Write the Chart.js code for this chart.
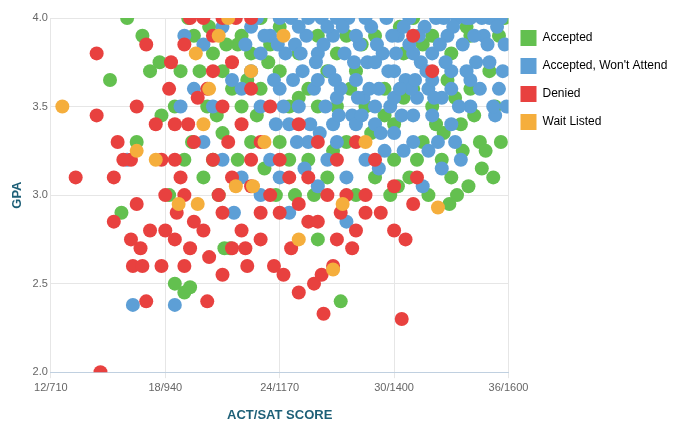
<!DOCTYPE html>
<html><head><meta charset="utf-8">
<script src="https://cdn.jsdelivr.net/npm/chart.js@4/dist/chart.umd.min.js"></script>
<style>html,body{margin:0;padding:0;background:#fff}#w{width:680px;height:431px}</style>
</head><body><div id="w"><canvas id="c"></canvas></div>
<script>
const xTicks=[12,18,24,30,36];
const xTickLabels=["12/710","18/940","24/1170","30/1400","36/1600"];
const yTicks=[2.0,2.5,3.0,3.5,4.0];
const seriesNames=["Accepted","Accepted, Won't Attend","Denied","Wait Listed"];
const accepted=[[15.7,2.9],[15.1,3.65],[16.5,3.3],[16.8,3.9],[17.2,3.7],[17.8,3.45],[17.7,3.75],[18.2,3.0],[18.5,2.5],[19,2.45],[19.3,2.48],[19.4,3.3],[19.5,3.9],[20.2,3.5],[20.5,3.2],[20.8,3.0],[21.1,2.7],[21.4,2.7],[20.5,3.8],[21,3.7],[21.5,3.6],[22,3.9],[22.5,3.8],[22,3.5],[21.8,3.2],[23,3.6],[23.5,3.85],[24,3.7],[24.5,3.5],[24,3.3],[25,3.8],[25.5,3.6],[26,3.9],[26.5,3.7],[27,3.5],[27.5,3.9],[27.2,2.4],[28,3.7],[28.5,3.5],[29,3.9],[29.5,3.6],[30,3.4],[30.5,3.8],[31,3.6],[31.5,3.3],[32,3.5],[32.5,3.2],[33,3.1],[33.3,3.0],[33.5,3.4],[34,3.6],[34.5,3.3],[34.8,3.25],[35,3.7],[35.5,3.9],[35.8,4.0],[34,3.9],[33,3.8],[32,3.9],[31,4.0],[30,3.2],[29,3.1],[28,3.0],[27.5,3.3],[26.5,3.1],[25.5,3.2],[24.8,3.0],[23.8,3.0],[23.2,3.15],[26,2.75],[29.8,3.0],[30.8,3.1],[31.8,3.0],[28.8,3.35],[27,3.8],[26,3.5],[25,3.55],[24,3.95],[23,4.0],[22.5,3.3],[21,3.35],[20,3.1],[19,3.2],[18.5,3.5],[16,4.0],[19.2,4.0],[18.8,3.7],[35.3,3.5],[33.8,3.95],[32.8,3.65],[31.5,3.85],[30.5,3.55],[29.5,3.45],[28.3,3.85],[27.7,3.6],[26.8,3.25],[25.8,3.0],[24.5,3.2],[30.3,3.95],[32.2,3.4],[33.2,3.55],[34.2,3.45],[22.8,3.45],[21.8,3.85],[20.7,3.45],[32.6,3.35],[33.6,3.25],[31.2,3.2],[30.2,3.05],[34.6,3.15],[35.6,3.3],[35.2,3.1],[33.9,3.05],[32.9,2.95],[20.3,3.95],[19.8,3.7],[21.2,3.85],[22.3,3.65],[23.4,3.75]];
const wontAttend=[[16.3,2.38],[16,3.2],[18.5,2.38],[18.8,3.5],[19.5,3.6],[20,3.3],[20.5,3.5],[21,3.2],[21.6,2.9],[22,3.1],[22.5,3.7],[22.8,4.0],[23,3.5],[23.5,3.9],[23.8,3.4],[24,3.6],[24.3,3.8],[24.6,4.0],[25,3.5],[25.2,3.7],[25.4,3.9],[25.6,3.4],[25.8,3.6],[26,3.8],[26.2,4.0],[26.4,3.5],[26.6,3.7],[26.8,3.9],[27,3.3],[27.2,3.6],[27.4,3.8],[27.6,4.0],[27.8,3.45],[28,3.65],[28.2,3.85],[28.4,3.55],[28.6,3.75],[28.8,3.95],[29,3.4],[29.2,3.6],[29.4,3.8],[29.6,4.0],[29.8,3.5],[30,3.7],[30.2,3.9],[30.4,3.45],[30.6,3.65],[30.8,3.85],[31,3.3],[31.2,3.55],[31.4,3.75],[31.6,3.95],[31.8,3.6],[32,3.8],[32.2,4.0],[32.5,3.55],[32.8,3.9],[33,3.7],[33.3,4.0],[33.6,3.85],[34,4.0],[34.3,3.75],[34.7,3.9],[35,4.0],[35.3,3.45],[35.5,3.6],[35.2,3.5],[33.5,3.2],[32.5,3.15],[31.5,3.05],[30.5,3.25],[29.5,3.25],[28.5,3.2],[27.5,3.1],[26.5,3.2],[25.5,3.3],[24.5,3.4],[23.5,3.2],[22.5,3.95],[24,3.1],[26,3.05],[21,3.95],[22,3.6],[23,3.8],[24.8,3.85],[27,4.0],[28,3.9],[29,3.75],[30,3.55],[31,3.8],[32,3.45],[33,3.4],[34,3.5],[35,3.75],[25,3.95],[26,3.65],[27,3.55],[28,3.4],[29,3.5],[30,3.35],[31,3.45],[32,3.65],[33,3.6],[34,3.65],[35.6,4.0],[24,4.0],[25.5,4.0],[28.5,4.0],[30.8,4.0],[33.8,4.0],[35.8,3.85],[19,3.9],[20,3.85],[21.5,3.65],[23,3.0],[24.5,2.9],[27.5,2.85],[31.8,3.25],[29.2,3.15],[26.8,3.4],[25.3,3.15],[24.2,3.5],[24.7,3.65],[25.1,3.8],[25.9,3.75],[26.3,3.85],[26.9,3.65],[27.3,3.95],[27.9,3.75],[28.3,3.45],[28.7,3.6],[29.1,3.85],[29.7,3.7],[30.1,3.8],[30.5,3.95],[30.9,3.6],[31.3,3.9],[31.7,3.7],[32.1,3.55],[32.4,3.85],[32.7,3.75],[33.1,3.95],[33.4,3.5],[33.8,3.7],[34.2,3.9],[34.5,3.6],[34.9,3.85],[35.4,3.95],[23.7,3.65],[23.2,3.9],[24.9,3.3],[26.1,3.35],[27.1,3.45],[28.1,3.55],[29.3,3.35],[30.3,3.6],[31.1,3.65],[32.3,3.3],[33.2,3.3],[35.7,3.7],[35.9,3.5],[22.2,3.85],[23.9,3.85],[26.5,3.95],[29.9,3.9],[32.6,4.0],[34.6,4.0]];
const denied=[[14.6,2.0],[30.4,2.3],[13.3,3.1],[14.4,3.8],[14.4,3.45],[15.5,3.3],[15.3,3.1],[16.5,3.5],[17,3.85],[16.2,3.2],[16.5,2.95],[17.2,2.8],[16.7,2.7],[16.3,2.6],[16.8,2.6],[17.8,2.6],[17,2.4],[18,2.8],[18.5,2.75],[18.6,2.9],[19,3.0],[19.3,2.7],[19.5,2.85],[20,2.8],[20.3,2.65],[20.2,2.4],[21,2.55],[21,2.9],[21.5,2.7],[22,2.8],[22.3,2.6],[23,2.75],[23.7,2.6],[24.2,2.55],[24.6,2.7],[25,2.45],[25.5,2.85],[25.8,2.5],[26.2,2.55],[26.8,2.6],[26.3,2.33],[27,2.75],[27.8,2.7],[28.5,2.9],[29.3,2.9],[30,2.8],[30.6,2.75],[31,2.95],[31.2,3.1],[30,3.05],[28.5,3.0],[27.5,3.0],[26.5,3.0],[25.5,3.1],[24.5,3.1],[23.5,3.0],[22.5,3.05],[21.5,3.1],[20.5,3.2],[19.5,3.3],[18.5,3.4],[18.2,3.6],[18.3,3.75],[19,3.85],[19.3,4.0],[20,4.0],[20.5,3.9],[21,4.0],[21.7,4.0],[22.5,4.0],[20.2,3.6],[21,3.5],[22,3.4],[22.5,3.6],[23,3.3],[24,3.2],[23.5,3.5],[25,3.4],[26,3.3],[27,3.2],[28,3.3],[29,3.2],[18.8,3.1],[17.8,3.2],[18,3.0],[20.8,3.0],[21.3,3.3],[22.5,3.2],[19.7,3.55],[19.2,3.4],[24,2.9],[25,2.95],[26,2.85],[27.2,2.9],[28,2.8],[23,2.9],[19,2.6],[20.5,3.7],[21.5,3.75],[18.5,3.2],[17.5,3.4],[15.8,3.2],[15.3,2.85],[16.2,2.75],[22.2,2.7],[31,3.9],[32,3.7]];
const waitListed=[[12.6,3.5],[17.5,3.2],[18.7,2.95],[19.7,2.95],[20.3,3.6],[20.8,3.9],[19.6,3.8],[21.7,3.05],[22.6,3.05],[23.2,3.3],[26.8,2.58],[27.3,2.95],[32.3,2.93],[28.5,3.3],[21.3,4.0],[20,3.4],[16.5,3.25],[24.2,3.9],[25,2.75],[22.5,3.7]];
const colors=["#63c04f","#5d9fd6","#e8413f","#f5ae3c"];
const all=[accepted,wontAttend,denied,waitListed];
const toPts=a=>a.map(p=>({x:p[0],y:p[1]}));
new Chart(document.getElementById('c'),{
 type:'scatter',
 data:{datasets:all.map((d,i)=>({label:seriesNames[i],data:toPts(d),backgroundColor:colors[i],borderColor:colors[i],pointRadius:7,pointBorderWidth:0,order:4-i}))},
 options:{responsive:true,maintainAspectRatio:false,animation:false,
  layout:{padding:{top:18,right:4,left:6,bottom:4}},
  plugins:{tooltip:{enabled:false},legend:{position:'right',align:'start',
   labels:{boxWidth:16,boxHeight:16,padding:12,color:'#333',font:{family:'Arial, Liberation Sans',size:12},
    generateLabels:ch=>seriesNames.map((n,i)=>({text:n,fillStyle:colors[i],strokeStyle:colors[i],lineWidth:0,datasetIndex:i,hidden:false}))}}},
  scales:{
   x:{type:'linear',min:12,max:36,afterBuildTicks:ax=>{ax.ticks=xTicks.map(v=>({value:v}))},
    ticks:{color:'#666',font:{size:11},callback:v=>xTickLabels[xTicks.indexOf(v)]},
    grid:{color:'#e6e6e6',drawTicks:true,tickLength:6},border:{color:'#c0d0e0'},
    title:{display:true,text:'ACT/SAT SCORE',color:'#1d5f77',font:{size:13,weight:'bold'},padding:{top:10}}},
   y:{type:'linear',min:2,max:4,afterBuildTicks:ax=>{ax.ticks=yTicks.map(v=>({value:v}))},
    ticks:{color:'#666',font:{size:11},callback:v=>v.toFixed(1)},
    grid:{color:'#e6e6e6',drawTicks:false},border:{display:false},
    title:{display:true,text:'GPA',color:'#1d5f77',font:{size:13,weight:'bold'}}}
  }}
});
</script></body></html>
